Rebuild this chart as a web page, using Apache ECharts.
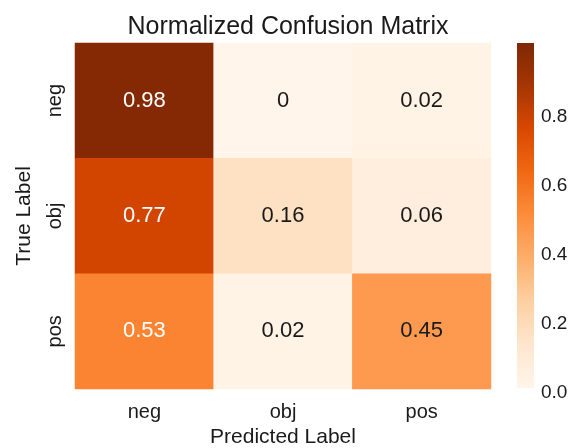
<!DOCTYPE html>
<html>
<head>
<meta charset="utf-8">
<script src="https://cdn.jsdelivr.net/npm/echarts@6/dist/echarts.min.js"></script>
<style>
html,body{margin:0;padding:0;background:#fff;}
#chart{width:573px;height:448px;}
</style>
</head>
<body>
<div id="chart"></div>
<script>
var predictedLabels = ['neg', 'obj', 'pos'];
var trueLabels = ['neg', 'obj', 'pos'];
var rowNeg = [0.98, 0, 0.02];
var rowObj = [0.77, 0.16, 0.06];
var rowPos = [0.53, 0.02, 0.45];
var colorbarTicks = [0.0, 0.2, 0.4, 0.6, 0.8];
var orangesColors = ['#fff5eb', '#fee6ce', '#fdd0a2', '#fdae6b', '#fd8d3c', '#f16913', '#d94801', '#a63603', '#7f2704'];

var rows = [rowNeg, rowObj, rowPos];
var cells = [];
rows.forEach(function (row, r) {
  row.forEach(function (v, c) {
    cells.push({
      value: [c, r, v],
      label: { color: v > 0.5 ? '#ffffff' : '#1a1a1a' }
    });
  });
});

var gradStops = orangesColors.map(function (c, i) {
  return { offset: 1 - i / (orangesColors.length - 1), color: c };
});

var FONT = 'Liberation Sans, Arial, sans-serif';
var chart = echarts.init(document.getElementById('chart'), null, { renderer: 'canvas' });
chart.setOption({
  backgroundColor: '#ffffff',
  animation: false,
  title: {
    text: 'Normalized Confusion Matrix',
    left: 283, top: 10, textAlign: 'center',
    textStyle: { fontFamily: FONT, fontSize: 25, fontWeight: 'normal', color: '#1a1a1a' }
  },
  grid: [
    { left: 75, top: 43, width: 416, height: 346, outerBoundsMode: 'none', containLabel: false },
    { left: 517, top: 48, width: 17, height: 345, outerBoundsMode: 'none', containLabel: false }
  ],
  xAxis: [
    {
      type: 'category', gridIndex: 0, data: predictedLabels,
      name: 'Predicted Label', nameLocation: 'middle', nameGap: 38,
      nameTextStyle: { fontFamily: FONT, fontSize: 21, color: '#1a1a1a' },
      axisLine: { show: false }, axisTick: { show: false }, splitLine: { show: false },
      axisLabel: { fontFamily: FONT, fontSize: 20, color: '#1a1a1a', margin: 13 }
    },
    { type: 'value', gridIndex: 1, show: false }
  ],
  yAxis: [
    {
      type: 'category', gridIndex: 0, data: trueLabels, inverse: true,
      name: 'True Label', nameLocation: 'middle', nameGap: 40, nameRotate: 90,
      nameTextStyle: { fontFamily: FONT, fontSize: 21, color: '#1a1a1a' },
      axisLine: { show: false }, axisTick: { show: false }, splitLine: { show: false },
      axisLabel: { fontFamily: FONT, fontSize: 20, color: '#1a1a1a', rotate: 90, margin: 10 }
    },
    {
      type: 'value', gridIndex: 1, position: 'right', min: 0, max: 1.0, interval: 0.2,
      axisLine: { show: false }, axisTick: { show: false }, splitLine: { show: false },
      axisLabel: {
        fontFamily: FONT, fontSize: 19, color: '#1a1a1a', margin: 7,
        formatter: function (v) {
          var ok = colorbarTicks.some(function (t) { return Math.abs(t - v) < 1e-6; });
          return ok ? v.toFixed(1) : '';
        }
      }
    }
  ],
  visualMap: {
    type: 'continuous', min: 0, max: 1.0, seriesIndex: 0, show: false,
    inRange: { color: orangesColors }
  },
  graphic: [{
    type: 'rect', left: 517, top: 43, silent: true,
    shape: { width: 17, height: 345 },
    style: { fill: new echarts.graphic.LinearGradient(0, 0, 0, 1, gradStops) }
  }],
  series: [{
    type: 'heatmap', xAxisIndex: 0, yAxisIndex: 0,
    data: cells,
    label: {
      show: true, fontFamily: FONT, fontSize: 22,
      formatter: function (p) { return String(p.value[2]); }
    },
    itemStyle: { borderWidth: 0 }
  }]
});
</script>
</body>
</html>
